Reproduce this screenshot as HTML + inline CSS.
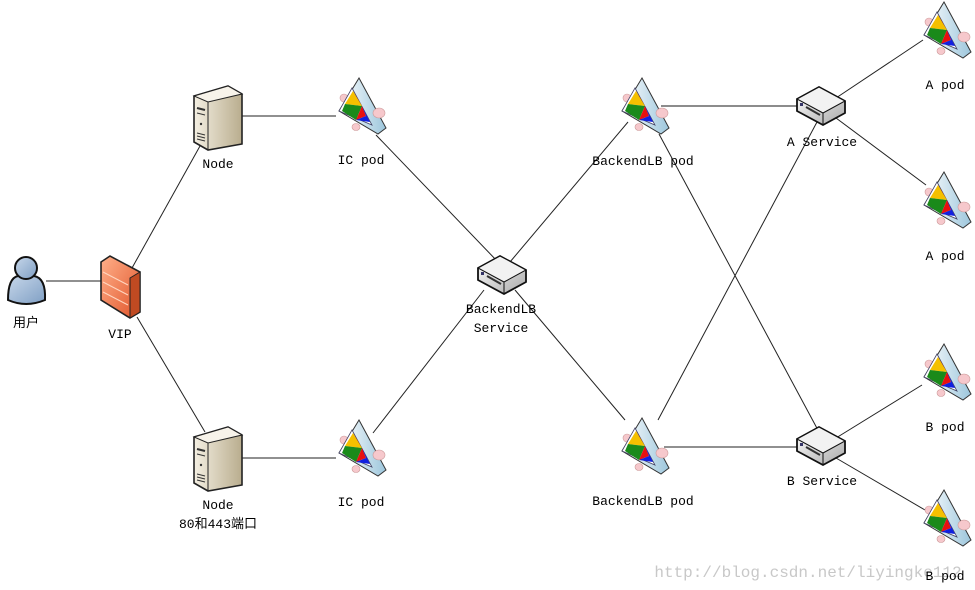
<!DOCTYPE html>
<html><head><meta charset="utf-8"><style>
html,body{margin:0;padding:0;background:#fff;}
svg{display:block}
text{font-family:"Liberation Mono","Noto Sans CJK SC",monospace;font-size:13px;fill:#000;text-anchor:middle}
</style></head><body>
<svg width="975" height="590" viewBox="0 0 975 590" xmlns="http://www.w3.org/2000/svg">
<defs>
<linearGradient id="pg" x1="0" y1="0" x2="1" y2="0"><stop offset="0" stop-color="#ffffff"/><stop offset="1" stop-color="#9cc6dc"/></linearGradient>
<linearGradient id="sg" x1="0" y1="0" x2="1" y2="0"><stop offset="0" stop-color="#f4efe2"/><stop offset="1" stop-color="#b9ad8e"/></linearGradient>
<linearGradient id="fg" x1="0" y1="0" x2="1" y2="1"><stop offset="0" stop-color="#ffb08a"/><stop offset="1" stop-color="#e0542a"/></linearGradient>
<linearGradient id="wg" x1="0" y1="0" x2="1" y2="1"><stop offset="0" stop-color="#ffffff"/><stop offset="1" stop-color="#a9a9a9"/></linearGradient>
<linearGradient id="ug" x1="0" y1="0" x2="1" y2="1"><stop offset="0" stop-color="#c7d7ea"/><stop offset="1" stop-color="#7f9fc4"/></linearGradient>
<g id="pod">
 <ellipse cx="8" cy="20" rx="4" ry="4" fill="#f6c8cc" stroke="#c99" stroke-width="0.6"/>
 <polygon points="23,0 50,50 42,56 3,33" fill="url(#pg)" stroke="#333" stroke-width="1"/>
 <polygon points="16,10 36,47 3,33" fill="#fff" stroke="#446" stroke-width="0.8"/>
 <polygon points="17,13 26,28 9,26" fill="#f4c000"/>
 <polygon points="9,26 26,28 20,42 6,33" fill="#1a8a1a"/>
 <polygon points="26,28 30,38 20,42" fill="#e81010"/>
 <polygon points="17,13 21,20 26,28" fill="#e81010"/>
 <polygon points="26,28 34,44 20,42 30,38" fill="#1020e0"/>
 <ellipse cx="43" cy="35" rx="6" ry="5" fill="#f6c8cc" stroke="#c99" stroke-width="0.6"/>
 <ellipse cx="20" cy="49" rx="4" ry="3.5" fill="#f6c8cc" stroke="#c99" stroke-width="0.6"/>
</g>
<g id="srv">
 <polygon points="0,10 34,0 48,8 48,58 14,64 0,56" fill="url(#sg)" stroke="#222" stroke-width="1.6"/>
 <polygon points="0,10 34,0 48,8 14,16" fill="#f7f3ea" stroke="#222" stroke-width="1"/>
 <line x1="14" y1="16" x2="14" y2="64" stroke="#222" stroke-width="1"/>
 <line x1="3" y1="22" x2="11" y2="24" stroke="#333" stroke-width="2"/>
 <line x1="3" y1="27" x2="11" y2="29" stroke="#333" stroke-width="1"/>
 <circle cx="7" cy="38" r="1.2" fill="#333"/>
 <line x1="3" y1="47" x2="11" y2="49" stroke="#333"/><line x1="3" y1="50" x2="11" y2="52" stroke="#333"/><line x1="3" y1="53" x2="11" y2="55" stroke="#333"/>
</g>
<g id="sw">
 <polygon points="0,12 22,0 48,14 48,26 26,38 0,24" fill="url(#wg)" stroke="#111" stroke-width="1.8"/>
 <polygon points="0,12 22,0 48,14 26,26" fill="#f2f2f2" stroke="#111" stroke-width="1"/>
 <line x1="26" y1="26" x2="26" y2="38" stroke="#111"/>
 <rect x="3" y="16" width="3" height="3" fill="#336"/>
 <line x1="9" y1="20" x2="23" y2="28" stroke="#333" stroke-width="2"/>
</g>
</defs>
<g stroke="#222" stroke-width="1" fill="none">
<line x1="46" y1="281" x2="101" y2="281"/>
<line x1="132" y1="268" x2="200" y2="146"/>
<line x1="137" y1="317" x2="205" y2="432"/>
<line x1="242" y1="116" x2="336" y2="116"/>
<line x1="242" y1="458" x2="336" y2="458"/>
<line x1="376" y1="135" x2="498" y2="262"/>
<line x1="373" y1="433" x2="484" y2="290"/>
<line x1="510" y1="262" x2="628" y2="122"/>
<line x1="515" y1="290" x2="625" y2="420"/>
<line x1="661" y1="106" x2="797" y2="106" stroke="#666" stroke-width="1.5"/>
<line x1="659" y1="134" x2="819" y2="432"/>
<line x1="658" y1="420" x2="817" y2="122"/>
<line x1="664" y1="447" x2="800" y2="447"/>
<line x1="836" y1="98" x2="923" y2="40"/>
<line x1="836" y1="118" x2="926" y2="185"/>
<line x1="836" y1="438" x2="922" y2="385"/>
<line x1="836" y1="458" x2="925" y2="510"/>
</g>
<!-- user -->
<g>
 <path d="M8,300 Q8,278 18,276 L34,276 Q46,278 45,300 Q26,308 8,300 Z" fill="url(#ug)" stroke="#111" stroke-width="2"/>
 <circle cx="26" cy="268" r="11" fill="url(#ug)" stroke="#111" stroke-width="2"/>
</g>
<!-- firewall -->
<g>
 <polygon points="101,262 110,256 140,272 140,312 130,318 101,300" fill="url(#fg)" stroke="#222" stroke-width="1.6"/>
 <polygon points="130,278 140,272 140,312 130,318" fill="#c04a22" stroke="#222"/>
 <g stroke="#ffd6c0" stroke-width="1"><line x1="103" y1="272" x2="128" y2="285"/><line x1="103" y1="282" x2="128" y2="295"/><line x1="103" y1="292" x2="128" y2="305"/></g>
</g>
<use href="#srv" x="194" y="86"/>
<use href="#srv" x="194" y="427"/>
<use href="#pod" x="336" y="78"/>
<use href="#pod" x="336" y="420"/>
<use href="#pod" x="619" y="78"/>
<use href="#pod" x="619" y="418"/>
<use href="#pod" x="921" y="2"/>
<use href="#pod" x="921" y="172"/>
<use href="#pod" x="921" y="344"/>
<use href="#pod" x="921" y="490"/>
<use href="#sw" x="478" y="256"/>
<use href="#sw" x="797" y="87"/>
<use href="#sw" x="797" y="427"/>
<text x="218" y="168">Node</text>
<text x="361" y="164">IC pod</text>
<text x="643" y="165">BackendLB pod</text>
<text x="822" y="146">A Service</text>
<text x="945" y="89">A pod</text>
<text x="945" y="260">A pod</text>
<text x="26" y="327">用户</text>
<text x="120" y="338">VIP</text>
<text x="501" y="313">BackendLB</text>
<text x="501" y="332">Service</text>
<text x="218" y="509">Node</text>
<text x="218" y="528">80和443端口</text>
<text x="361" y="506">IC pod</text>
<text x="643" y="505">BackendLB pod</text>
<text x="822" y="485">B Service</text>
<text x="945" y="431">B pod</text>
<text x="808" y="577" style="fill:#c8c8c8;font-size:16px">http://blog.csdn.net/liyingke112</text>
<text x="945" y="580">B pod</text>
</svg>
</body></html>
